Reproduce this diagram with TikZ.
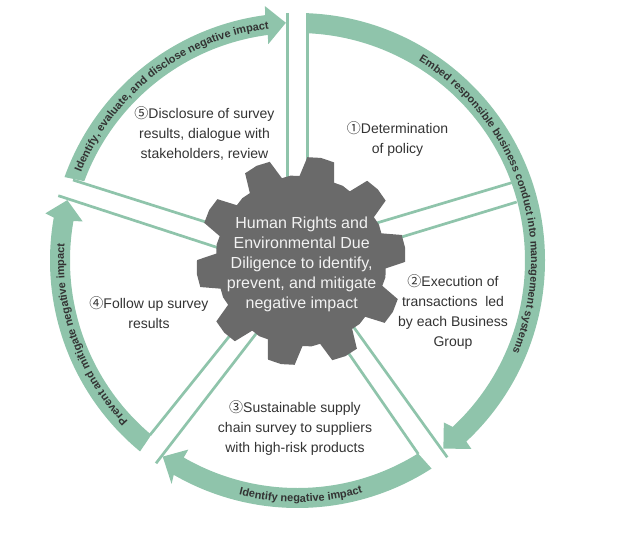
\documentclass[tikz,border=0pt]{standalone}
\usepackage{fontspec}
\setmainfont{Liberation Sans}
\newfontfamily\circfont{Noto Sans CJK JP}
\usetikzlibrary{decorations.text}
\definecolor{ringgreen}{HTML}{8FC4AB}
\definecolor{geargray}{HTML}{6A6A6A}
\definecolor{labeltext}{HTML}{333333}
\newcommand{\circnum}[1]{{\circfont #1}}
% #1 outer start, #2 inner start, #3 join, #4 outer barb angle, #5 tip angle, #6 inner barb angle
\newcommand{\ringarrow}[6]{%
  \fill[ringgreen] (#1:247.5pt) arc[start angle=#1,end angle=#3,radius=247.5pt]
    -- (#4:256.5pt) -- (#5:238pt) -- (#6:218.3pt) -- (#3:227.5pt)
    arc[start angle=#3,end angle=#2,radius=227.5pt] -- cycle;}
\newcommand{\ringlabel}[5]{%
  \path[decorate,decoration={text along path,text align=center,
    text={|\fontsize{#4}{#4}\bfseries\color{labeltext}\selectfont|#5}}]
    (#1:#3pt) arc[start angle=#1,end angle=#2,radius=#3pt];}
\tikzset{
  spoke/.style={draw=ringgreen,line width=2.7pt},
  steplabel/.style={align=center,text=labeltext,inner sep=0pt,font=\fontsize{14}{20}\selectfont},
  gearlabel/.style={align=center,text=white!95!black,inner sep=0pt,font=\fontsize{16}{20}\selectfont}
}
\begin{document}
\begin{tikzpicture}[x=1pt,y=1pt]
\useasboundingbox (0,0) rectangle (617,-559);
\coordinate (s1a) at (287.5,-13);  \coordinate (s1b) at (287.5,-185);
\coordinate (s2a) at (307.8,-13);  \coordinate (s2b) at (307.8,-180);
\coordinate (s3a) at (511.7,-182.7); \coordinate (s3b) at (370,-225);
\coordinate (s4a) at (516.7,-202);  \coordinate (s4b) at (395,-239);
\coordinate (s5a) at (447.3,-457.3); \coordinate (s5b) at (350,-322);
\coordinate (s6a) at (418.3,-454);  \coordinate (s6b) at (345,-348);
\coordinate (s7a) at (150,-435);    \coordinate (s7b) at (236,-328);
\coordinate (s8a) at (156,-463.3);  \coordinate (s8b) at (262,-326);
\coordinate (s9a) at (58.3,-195.7); \coordinate (s9b) at (225,-250);
\coordinate (s10a) at (73,-180);    \coordinate (s10b) at (212,-224);
\foreach \n in {1,...,10} \draw[spoke] (s\n a) -- (s\n b);
\begin{scope}[shift={(297.5,-260.5)}]
  \ringarrow{87.9}{87.7}{-47}{-47.3}{-52.2}{-47.9}
  \ringarrow{-57.2}{-58}{-120}{-119.4}{-124.5}{-120}
  \ringarrow{-129.5}{-130}{-190}{-190.6}{-194.7}{-190.3}
  \ringarrow{160.3}{159.6}{97.5}{97.3}{92.8}{97.7}
  \ringlabel{64}{-28.2}{233.5}{10.8}{Embed responsible business conduct into management systems}
  \ringlabel{-108}{-70.4}{241.5}{11}{Identify negative impact}
  \ringlabel{230}{169.4}{233.5}{11}{Prevent and mitigate negative impact}
  \ringlabel{165}{90}{233.5}{11}{Identify, evaluate, and disclose negative impact}
\end{scope}
\begin{scope}[shift={(301,-261)}]
  \fill[geargray] (91:85pt)
    \foreach \a in {79,43,7,-29,-65,-101,-137,-173,-209,-245} {
      -- ({\a+7.5}:104pt) -- (\a:105pt) -- ({\a-7.5}:104pt) -- ({\a-12}:85pt) -- ({\a-18}:86pt) -- ({\a-24}:85pt)
    } -- cycle;
\end{scope}
\node[gearlabel] (core) at (301.7,-264.5) {Human Rights and\\Environmental Due\\Diligence to identify,\\prevent, and mitigate\\negative impact};
\node[steplabel] (step1) at (397.5,-139) {\circnum{①}Determination\\of policy};
\node[steplabel] (step2) at (453,-312) {\circnum{②}Execution of\\transactions\ \ led\\by each Business\\Group};
\node[steplabel] (step3) at (295,-428) {\circnum{③}Sustainable supply\\chain survey to suppliers\\with high-risk products};
\node[steplabel] (step4) at (149,-313) {\circnum{④}Follow up survey\\results};
\node[steplabel] (step5) at (204.5,-133) {\circnum{⑤}Disclosure of survey\\results, dialogue with\\stakeholders, review};
\end{tikzpicture}
\end{document}
